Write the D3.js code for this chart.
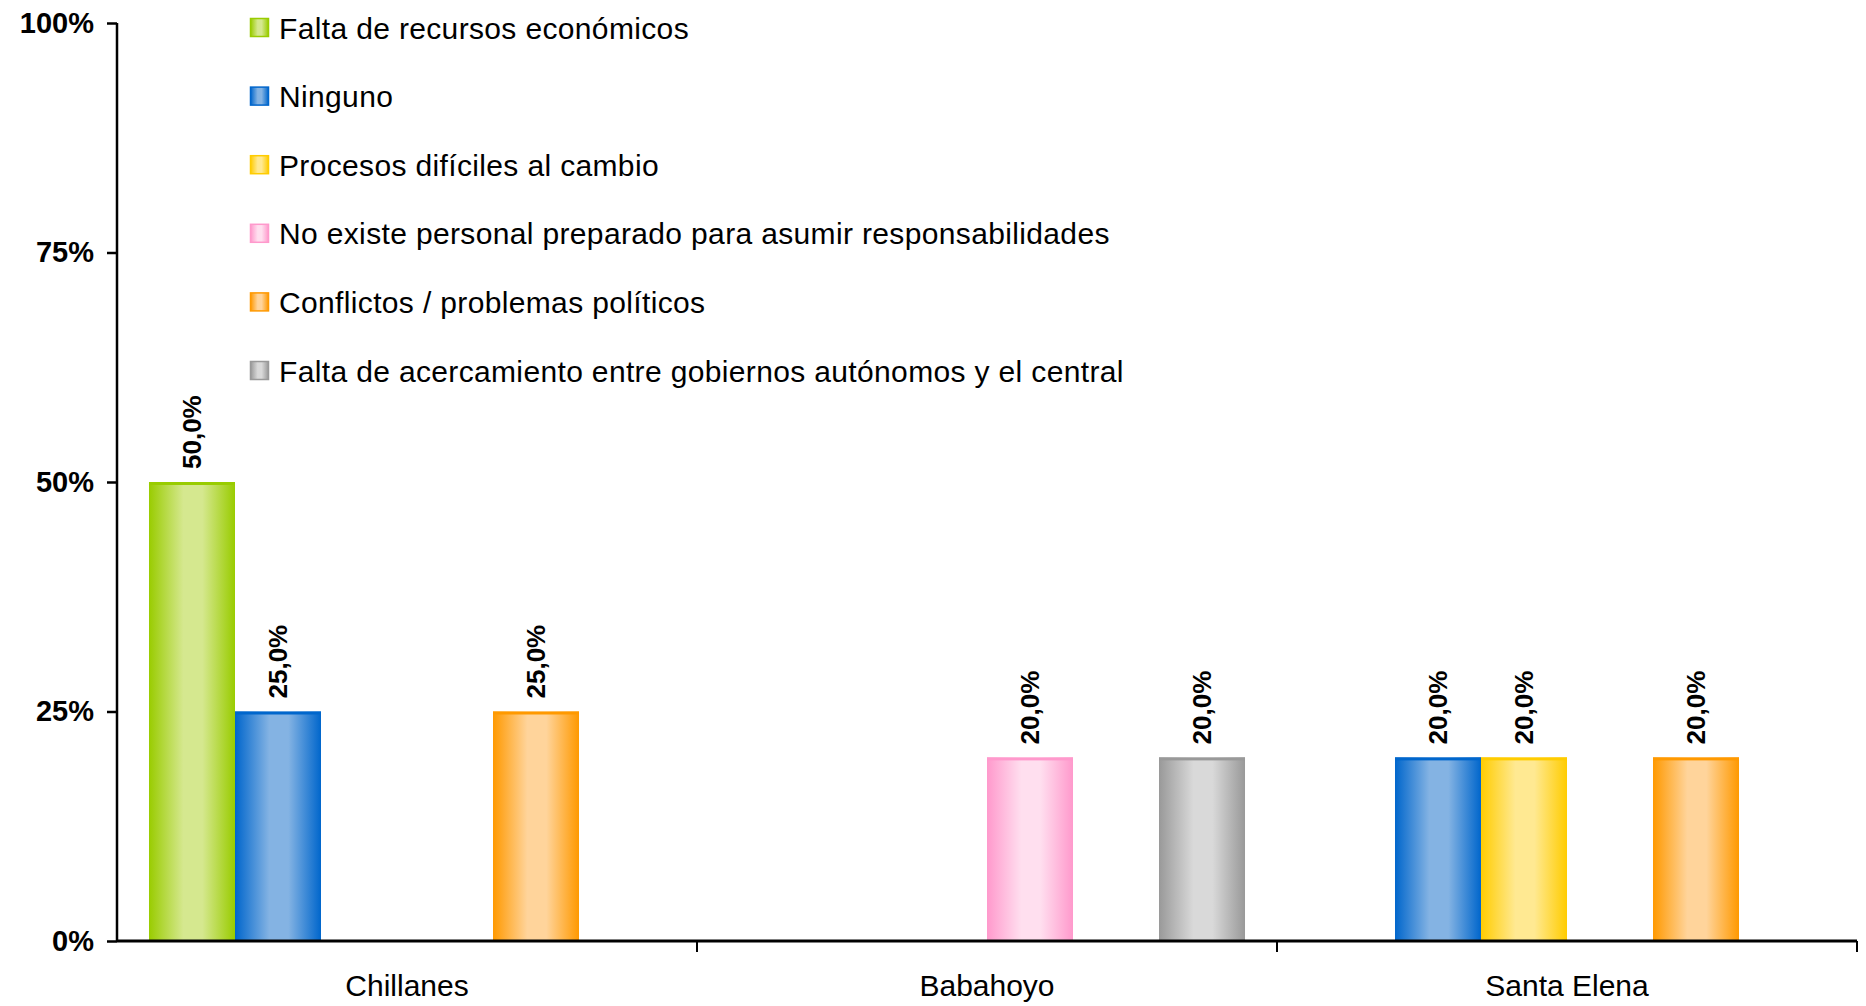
<!DOCTYPE html>
<html>
<head>
<meta charset="utf-8">
<script src="https://cdn.jsdelivr.net/npm/d3@7"></script>
<style>
  body { margin: 0; background: #fff; }
  svg { display: block; font-family: "Liberation Sans", Arial, sans-serif; }
</style>
</head>
<body>
<div id="chart"></div>
<script>
const categories = ["Chillanes", "Babahoyo", "Santa Elena"];

const seriesNames = [
  "Falta de recursos económicos",
  "Ninguno",
  "Procesos difíciles al cambio",
  "No existe personal preparado para asumir responsabilidades",
  "Conflictos / problemas políticos",
  "Falta de acercamiento entre gobiernos autónomos y el central"
];

// one value per category, in the order of `categories`
const faltaRecursos   = [50, 0, 0];
const ninguno         = [25, 0, 20];
const procesos        = [0, 0, 20];
const noPersonal      = [0, 20, 0];
const conflictos      = [25, 0, 20];
const faltaAcercam    = [0, 20, 0];

const yTicks = [0, 25, 50, 75, 100];

const seriesValues = [faltaRecursos, ninguno, procesos, noPersonal, conflictos, faltaAcercam];

// edge colour / light centre colour for each series
const edgeColors  = ["#99cc00", "#0066cc", "#ffcc00", "#ff99cc", "#ff9900", "#999999"];
const lightColors = ["#d5e88f", "#84b3e3", "#ffe992", "#ffdfef", "#ffd49b", "#d9d9d9"];

const W = 1866, H = 1006;
const margin = { top: 23, right: 9, bottom: 65, left: 117 };
const width  = W - margin.left - margin.right,
      height = H - margin.top  - margin.bottom;

const svg = d3.select("#chart")
  .append("svg")
  .attr("width", W)
  .attr("height", H);

const defs = svg.append("defs");
edgeColors.forEach((c, i) => {
  const grad = defs.append("linearGradient")
    .attr("id", "grad" + i)
    .attr("x1", "0%").attr("x2", "100%")
    .attr("y1", "0%").attr("y2", "0%");
  grad.append("stop").attr("offset", "0%").attr("stop-color", c);
  grad.append("stop").attr("offset", "40%").attr("stop-color", lightColors[i]);
  grad.append("stop").attr("offset", "62%").attr("stop-color", lightColors[i]);
  grad.append("stop").attr("offset", "100%").attr("stop-color", c);
});

const g = svg.append("g")
  .attr("transform", `translate(${margin.left},${margin.top})`);

const x0 = d3.scaleBand()
  .domain(categories)
  .range([0, width]);

const x1 = d3.scaleBand()
  .domain(seriesNames)
  .range([0, x0.bandwidth()])
  .paddingOuter(0.372);

const y = d3.scaleLinear()
  .domain([0, 100])
  .range([height, 0]);

// bars
const bars = [];
seriesNames.forEach((s, i) => {
  categories.forEach((c, j) => {
    if (seriesValues[i][j] > 0) bars.push({ s, i, c, v: seriesValues[i][j] });
  });
});

g.selectAll("rect.bar")
  .data(bars)
  .join("rect")
  .attr("class", "bar")
  .attr("x", d => x0(d.c) + x1(d.s))
  .attr("y", d => y(d.v))
  .attr("width", x1.bandwidth())
  .attr("height", d => y(0) - y(d.v))
  .attr("fill", d => `url(#grad${d.i})`);

g.selectAll("rect.cap")
  .data(bars)
  .join("rect")
  .attr("class", "cap")
  .attr("x", d => x0(d.c) + x1(d.s))
  .attr("y", d => y(d.v))
  .attr("width", x1.bandwidth())
  .attr("height", 3)
  .attr("fill", d => edgeColors[d.i]);

// value labels
g.selectAll("text.val")
  .data(bars)
  .join("text")
  .attr("class", "val")
  .attr("transform", d =>
    `translate(${x0(d.c) + x1(d.s) + x1.bandwidth() / 2 + 9},${y(d.v) - 13}) rotate(-90)`)
  .attr("text-anchor", "start")
  .attr("font-size", 26)
  .attr("font-weight", "bold")
  .text(d => d.v.toFixed(1).replace(".", ",") + "%");

// axes
const yAxis = g.append("g")
  .call(d3.axisLeft(y).tickValues(yTicks).tickSize(10).tickPadding(13)
    .tickFormat(d => d + "%"));
yAxis.select(".domain").attr("stroke-width", 2.5).attr("d", `M0,0V${height}`);
yAxis.selectAll(".tick line").attr("stroke-width", 2.5);
yAxis.selectAll("text")
  .attr("font-size", 29)
  .attr("font-weight", "bold")
  .attr("fill", "#000")
  .attr("font-family", "Liberation Sans, Arial, sans-serif");

const xAxis = g.append("g")
  .attr("transform", `translate(0,${height})`)
  .call(d3.axisBottom(x0).tickSize(0).tickPadding(34));
xAxis.select(".domain").attr("stroke-width", 3).attr("d", `M0,0H${width}`);
xAxis.selectAll("text")
  .attr("font-size", 30)
  .attr("fill", "#000")
  .attr("font-family", "Liberation Sans, Arial, sans-serif");

// category separators
g.append("g")
  .selectAll("line")
  .data(categories)
  .join("line")
  .attr("x1", d => x0(d) + x0.bandwidth())
  .attr("x2", d => x0(d) + x0.bandwidth())
  .attr("y1", height)
  .attr("y2", height + 11)
  .attr("stroke", "#000")
  .attr("stroke-width", 2);

// legend
const legend = svg.append("g")
  .attr("transform", "translate(250,28)");

const item = legend.selectAll("g")
  .data(seriesNames)
  .join("g")
  .attr("transform", (d, i) => `translate(0,${i * 68.6})`);

item.append("rect")
  .attr("x", 0.5).attr("y", -9.5)
  .attr("width", 18).attr("height", 18)
  .attr("fill", (d, i) => `url(#grad${i})`)
  .attr("stroke", (d, i) => edgeColors[i])
  .attr("stroke-width", 1.5);

item.append("text")
  .attr("x", 29)
  .attr("dy", "0.35em")
  .attr("font-size", 30)
  .attr("letter-spacing", "0.35px")
  .attr("fill", "#000")
  .text(d => d);
</script>
</body>
</html>
